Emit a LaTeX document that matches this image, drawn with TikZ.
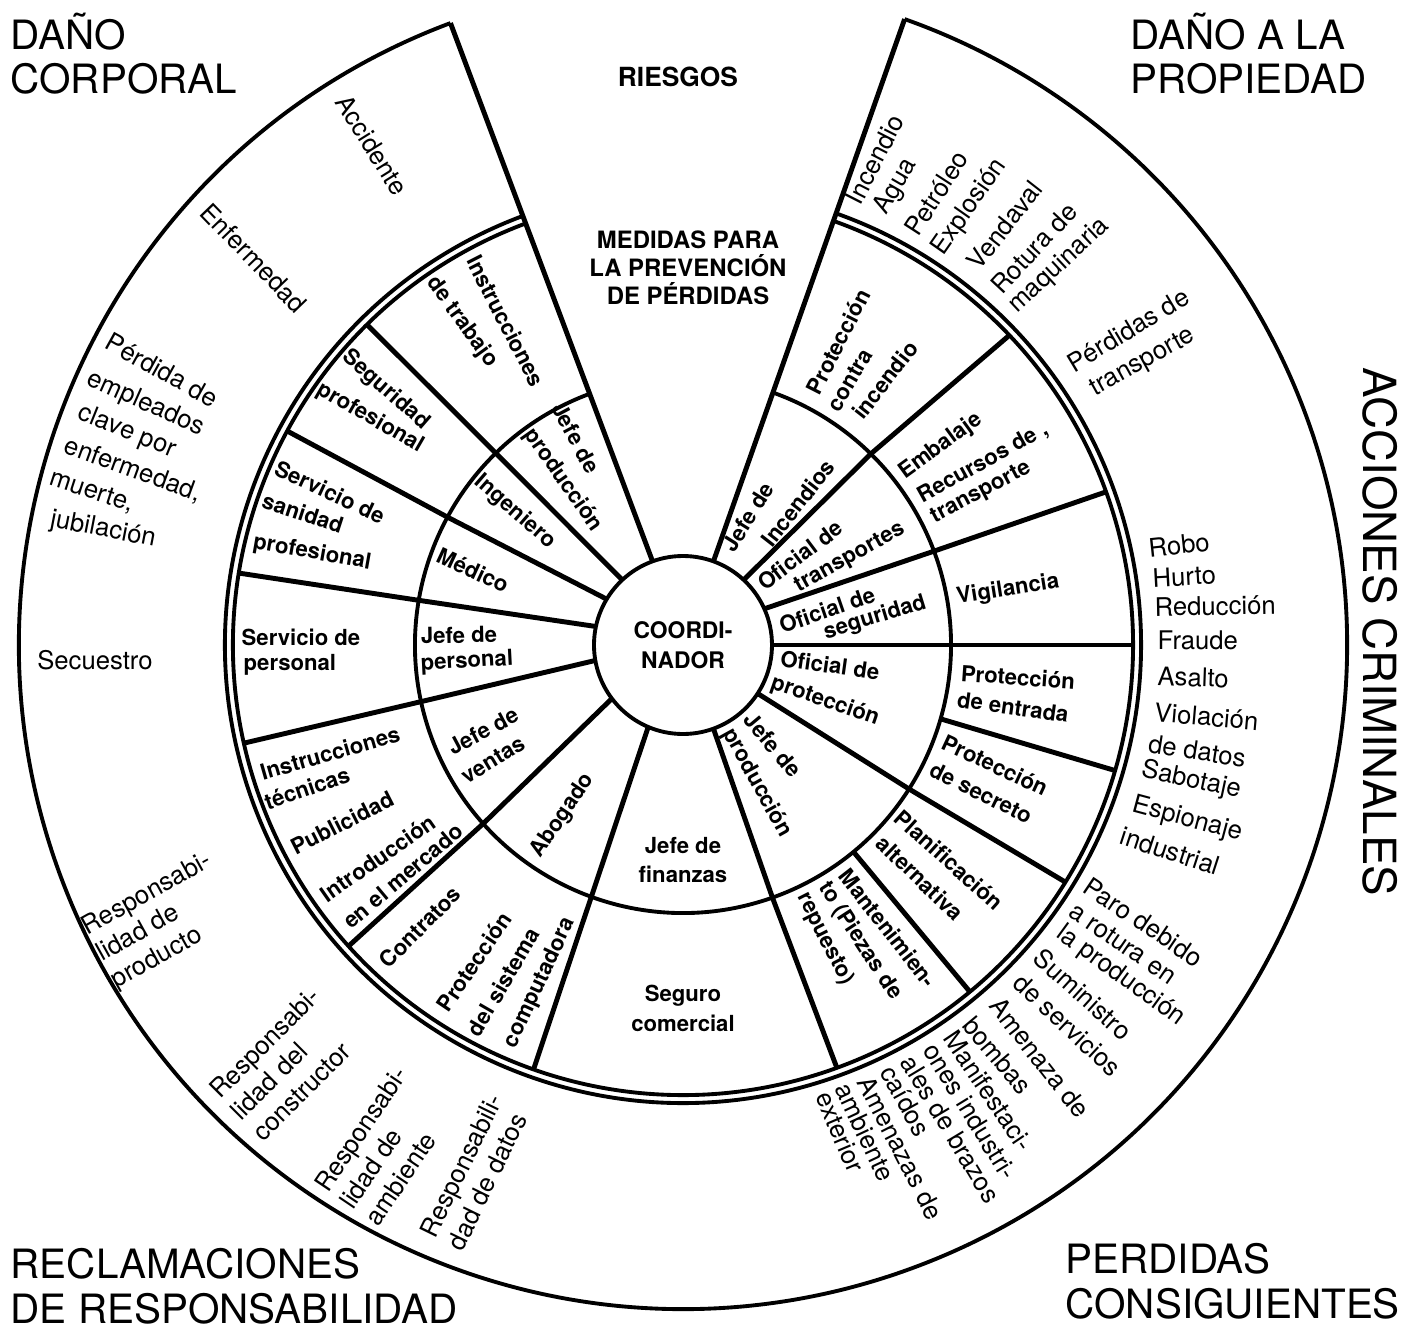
\documentclass[tikz,border=0pt]{standalone}
\usepackage{fontspec}
\setmainfont{TeX Gyre Heros}
\tikzset{
  rolelbl/.style={font=\fontsize{6.3}{8.5}\selectfont\bfseries, inner sep=0pt},
  risklbl/.style={font=\fontsize{7.3}{8.6}\selectfont, inner sep=0pt},
  cornerlbl/.style={font=\fontsize{11.5}{12.6}\selectfont, align=left, inner sep=0pt},
  ringline/.style={line width=1.1pt},
  spoke/.style={line width=1.4pt}
}

\begin{document}
\begin{tikzpicture}
    \useasboundingbox (-6.83,-6.82) rectangle (7.19,6.45);

    % 中心圆 COORDINADOR
    \node[circle, draw, line width=1.1pt, minimum size=1.78cm, inner sep=0pt, outer sep=0pt,
          align=center, font=\fontsize{6.5}{8.5}\selectfont\bfseries] (coord) at (0,0) {COORDI-\\NADOR};

    % 中圈、双线圈和外圈（顶部留出缺口）
    \draw[ringline] (110.5:2.68) arc (110.5:430.5:2.68);
    \draw[ringline] (110.5:4.50) arc (110.5:430.5:4.50);
    \draw[ringline] (110.5:4.58) arc (110.5:430.5:4.58);
    \draw[ringline] (110.5:6.64) arc (110.5:430.5:6.64);

    % 顶部缺口两侧的边线
    \draw[spoke] (coord.110.5) -- (110.5:6.64);
    \draw[spoke] (coord.70.5) -- (70.5:6.64);

    % 内部扇区分隔线
    \draw[spoke] (coord.47) -- (45.5:2.68) -- (43.5:4.50);
    \draw[spoke] (coord.24) -- (20.5:2.68) -- (19.9:4.50);
    \draw[spoke] (coord.0) -- (0:4.50);
    \draw[spoke] (344:2.68) -- (343.8:4.50);
    \draw[spoke] (coord.327) -- (327.5:2.68) -- (328.2:4.50);
    \draw[spoke] (309.5:2.68) -- (309.6:4.50);
    \draw[spoke] (coord.290) -- (289.5:2.68) -- (290:4.50);
    \draw[spoke] (coord.247) -- (250:2.68) -- (250.6:4.50);
    \draw[spoke] (coord.217.6) -- (221.8:2.68) -- (222:4.50);
    \draw[spoke] (coord.190.8) -- (192.2:2.68) -- (192.6:4.50);
    \draw[spoke] (coord.168.6) -- (170.4:2.68) -- (170.8:4.50);
    \draw[spoke] (coord.149) -- (151.5:2.68) -- (151.6:4.50);
    \draw[spoke] (coord.133) -- (134.3:2.68) -- (134.6:4.50);

    % 顶部标题
    \node[font=\fontsize{7.5}{9}\selectfont\bfseries] (riesgos) at (-0.05,5.68) {RIESGOS};
    \node[font=\fontsize{6.8}{8}\selectfont\bfseries, align=center] (medidas) at (0.05,3.77) {MEDIDAS PARA\\LA PREVENCIÓN\\DE PÉRDIDAS};

    % 四角的大标题
    \node[cornerlbl, anchor=north west] (corporal) at (-6.73,6.33) {DAÑO\\CORPORAL};
    \node[cornerlbl, anchor=north west] (propiedad) at (4.47,6.33) {DAÑO A LA\\PROPIEDAD};
    \node[cornerlbl, anchor=north west] (reclamaciones) at (-6.73,-6.03) {RECLAMACIONES\\DE RESPONSABILIDAD};
    \node[cornerlbl, anchor=north west] (consiguientes) at (3.82,-5.98) {PERDIDAS\\CONSIGUIENTES};
    \node[font=\fontsize{13}{14}\selectfont, rotate=-90, inner sep=0pt] (criminales) at (6.97,0.13) {ACCIONES CRIMINALES};

    % 中圈：负责人
    \node[rolelbl, rotate=-62] (jefeprod1a) at (-1.07,2.07) {Jefe de};
    \node[rolelbl, rotate=-55] (jefeprod1b) at (-1.20,1.65) {producción};
    \node[rolelbl, rotate=-41] (ingeniero) at (-1.68,1.33) {Ingeniero};
    \node[rolelbl, rotate=-25] (medico) at (-2.10,0.75) {Médico};
    \node[rolelbl, rotate=1] (jefepers1) at (-2.24,0.10) {Jefe de};
    \node[rolelbl, rotate=3] (jefepers2) at (-2.16,-0.17) {personal};
    \node[rolelbl, rotate=28] (jefevent1) at (-2.00,-0.86) {Jefe de};
    \node[rolelbl, rotate=31] (jefevent2) at (-1.90,-1.15) {ventas};
    \node[rolelbl, rotate=56] (abogado) at (-1.20,-1.71) {Abogado};
    \node[rolelbl, align=center] (finanzas) at (0,-2.15) {Jefe de\\finanzas};
    \node[rolelbl, rotate=-50] (jefeprod2a) at (0.90,-1.00) {Jefe de};
    \node[rolelbl, rotate=-61] (jefeprod2b) at (0.74,-1.38) {producción};
    \node[rolelbl, rotate=-8] (ofprot1) at (1.47,-0.20) {Oficial de};
    \node[rolelbl, rotate=-19] (ofprot2) at (1.42,-0.56) {protección};
    \node[rolelbl, rotate=19] (ofseg1) at (1.44,0.35) {Oficial de};
    \node[rolelbl, rotate=17] (ofseg2) at (1.92,0.27) {seguridad};
    \node[rolelbl, rotate=37] (oftrans1) at (1.17,0.90) {Oficial de};
    \node[rolelbl, rotate=29] (oftrans2) at (1.67,0.87) {transportes};
    \node[rolelbl, rotate=58] (jefeinc1) at (0.65,1.28) {Jefe de};
    \node[rolelbl, rotate=52] (jefeinc2) at (1.15,1.42) {Incendios};

    % 双线圈内：预防措施
    \node[rolelbl, rotate=-63] (instrab1) at (-1.77,3.24) {Instrucciones};
    \node[rolelbl, rotate=-54] (instrab2) at (-2.21,3.23) {de trabajo};
    \node[rolelbl, rotate=-41] (segprof1) at (-2.97,2.55) {Seguridad};
    \node[rolelbl, rotate=-30] (segprof2) at (-3.13,2.27) {profesional};
    \node[rolelbl, rotate=-25] (sanidad1) at (-3.53,1.53) {Servicio de};
    \node[rolelbl, rotate=-18] (sanidad2) at (-3.80,1.32) {sanidad};
    \node[rolelbl, rotate=-10] (sanidad3) at (-3.71,0.92) {profesional};
    \node[rolelbl, anchor=west] (servpers1) at (-4.42,0.08) {Servicio de};
    \node[rolelbl, anchor=west] (servpers2) at (-4.40,-0.20) {personal};
    \node[rolelbl, rotate=16] (instec1) at (-3.53,-1.08) {Instrucciones};
    \node[rolelbl, rotate=19] (instec2) at (-3.76,-1.43) {técnicas};
    \node[rolelbl, rotate=27] (publicidad) at (-3.41,-1.78) {Publicidad};
    \node[rolelbl, rotate=35] (introd1) at (-3.05,-2.13) {Introducción};
    \node[rolelbl, rotate=40] (introd2) at (-2.80,-2.31) {en el mercado};
    \node[rolelbl, rotate=45] (contratos) at (-2.63,-2.82) {Contratos};
    \node[rolelbl, rotate=56] (sistema1) at (-2.09,-3.17) {Protección};
    \node[rolelbl, rotate=60] (sistema2) at (-1.80,-3.37) {del sistema};
    \node[rolelbl, rotate=65] (sistema3) at (-1.43,-3.38) {computadora};
    \node[rolelbl, align=center] (seguro) at (0,-3.63) {Seguro\\comercial};
    \node[rolelbl, rotate=-52] (mant1) at (2.05,-2.83) {Mantenimien-};
    \node[rolelbl, rotate=-57] (mant2) at (1.77,-2.96) {to (Piezas de};
    \node[rolelbl, rotate=-63] (mant3) at (1.42,-2.94) {repuesto)};
    \node[rolelbl, rotate=-42] (planif1) at (2.66,-2.15) {Planificación};
    \node[rolelbl, rotate=-44] (planif2) at (2.37,-2.33) {alternativa};
    \node[rolelbl, rotate=-25] (secreto1) at (3.12,-1.20) {Protección};
    \node[rolelbl, rotate=-26] (secreto2) at (2.98,-1.48) {de secreto};
    \node[rolelbl, rotate=-4] (entrada1) at (3.35,-0.32) {Protección};
    \node[rolelbl, rotate=-8] (entrada2) at (3.30,-0.62) {de entrada};
    \node[rolelbl, rotate=9] (vigilancia) at (3.25,0.55) {Vigilancia};
    \node[rolelbl, rotate=36] (embalaje1) at (2.58,1.99) {Embalaje};
    \node[rolelbl, rotate=29] (embalaje2) at (3.00,1.82) {Recursos de ,};
    \node[rolelbl, rotate=28] (embalaje3) at (2.98,1.52) {transporte};
    \node[rolelbl, rotate=63] (protinc1) at (1.55,3.03) {Protección};
    \node[rolelbl, rotate=60] (protinc2) at (1.67,2.65) {contra};
    \node[rolelbl, rotate=52] (protinc3) at (2.02,2.65) {incendio};

    % 外圈左侧：人身伤害与责任索赔
    \node[risklbl, rotate=-58] (accidente) at (-3.11,5.00) {Accidente};
    \node[risklbl, rotate=-46] (enfermedad) at (-4.29,3.87) {Enfermedad};
    \node[risklbl, rotate=-29] (perdida1) at (-5.21,2.75) {Pérdida de};
    \node[risklbl, rotate=-24] (perdida2) at (-5.37,2.41) {empleados};
    \node[risklbl, rotate=-22] (perdida3) at (-5.56,2.13) {clave por};
    \node[risklbl, rotate=-20] (perdida4) at (-5.50,1.75) {enfermedad,};
    \node[risklbl, rotate=-18] (perdida5) at (-5.91,1.53) {muerte,};
    \node[risklbl, rotate=-11] (perdida6) at (-5.80,1.15) {jubilación};
    \node[risklbl] (secuestro) at (-5.88,-0.15) {Secuestro};
    \node[risklbl, align=left, rotate=29] (producto) at (-5.21,-2.76) {Responsabi-\\lidad de\\producto};
    \node[risklbl, align=left, rotate=45] (constructor) at (-3.97,-4.19) {Responsabi-\\lidad del\\constructor};
    \node[risklbl, align=left, rotate=56] (ambiente) at (-2.97,-5.01) {Responsabi-\\lidad de\\ambiente};
    \node[risklbl, align=left, rotate=64] (datos) at (-2.08,-5.27) {Responsabili-\\dad de datos};

    % 外圈右上：财产损失
    \node[risklbl, anchor=west, rotate=63] (incendio) at (69:4.73) {Incendio};
    \node[risklbl, anchor=west, rotate=60] (agua) at (65.4:4.75) {Agua};
    \node[risklbl, anchor=west, rotate=57] (petroleo) at (61.1:4.70) {Petróleo};
    \node[risklbl, anchor=west, rotate=55] (explosion) at (57:4.67) {Explosión};
    \node[risklbl, anchor=west, rotate=52] (vendaval) at (52.6:4.76) {Vendaval};
    \node[risklbl, anchor=west, rotate=47] (rotura1) at (48.7:4.73) {Rotura de};
    \node[risklbl, anchor=west, rotate=43] (rotura2) at (45.5:4.70) {maquinaria};
    \node[risklbl, rotate=31] (transp1) at (4.45,3.15) {Pérdidas de};
    \node[risklbl, rotate=29] (transp2) at (4.60,2.82) {transporte};

    % 外圈右侧：犯罪行为
    \node[risklbl, anchor=west, rotate=6] (robo) at (4.65,0.97) {Robo};
    \node[risklbl, anchor=west, rotate=3] (hurto) at (4.69,0.67) {Hurto};
    \node[risklbl, anchor=west, rotate=1] (reduccion) at (4.71,0.38) {Reducción};
    \node[risklbl, anchor=west] (fraude) at (4.74,0.05) {Fraude};
    \node[risklbl, anchor=west, rotate=-2] (asalto) at (4.74,-0.31) {Asalto};
    \node[risklbl, anchor=west, rotate=-5] (violacion1) at (4.71,-0.67) {Violación};
    \node[risklbl, anchor=west, rotate=-9] (violacion2) at (4.65,-0.98) {de datos};
    \node[risklbl, anchor=west, rotate=-12] (sabotaje) at (4.58,-1.25) {Sabotaje};
    \node[risklbl, anchor=west, rotate=-15] (espionaje1) at (4.49,-1.60) {Espionaje};
    \node[risklbl, anchor=west, rotate=-18] (espionaje2) at (4.38,-1.90) {industrial};

    % 外圈右下：间接损失
    \node[risklbl, anchor=west, rotate=-34] (paro1) at (-30.6:4.68) {Paro debido};
    \node[risklbl, anchor=west, rotate=-34.5] (paro2) at (-34.1:4.69) {a rotura en};
    \node[risklbl, anchor=west, rotate=-36] (paro3) at (-37.3:4.72) {la producción};
    \node[risklbl, anchor=west, rotate=-42] (sumin1) at (-41:4.70) {Suministro};
    \node[risklbl, anchor=west, rotate=-43] (sumin2) at (-44.9:4.72) {de servicios};
    \node[risklbl, anchor=west, rotate=-52] (bomba1) at (-48.7:4.73) {Amenaza de};
    \node[risklbl, anchor=west, rotate=-50] (bomba2) at (-52.8:4.71) {bombas};
    \node[risklbl, anchor=west, rotate=-56] (huelga1) at (-55.5:4.71) {Manifestaci-};
    \node[risklbl, anchor=west, rotate=-58.5] (huelga2) at (-58.3:4.70) {ones industri-};
    \node[risklbl, anchor=west, rotate=-59] (huelga3) at (-61.4:4.69) {ales de brazos};
    \node[risklbl, anchor=west, rotate=-61] (huelga4) at (-64.2:4.69) {caídos};
    \node[risklbl, anchor=west, rotate=-63] (amb1) at (-67.2:4.69) {Amenazas de};
    \node[risklbl, anchor=west, rotate=-65] (amb2) at (-70:4.67) {ambiente};
    \node[risklbl, anchor=west, rotate=-67] (amb3) at (-72.6:4.69) {exterior};
\end{tikzpicture}
\end{document}
